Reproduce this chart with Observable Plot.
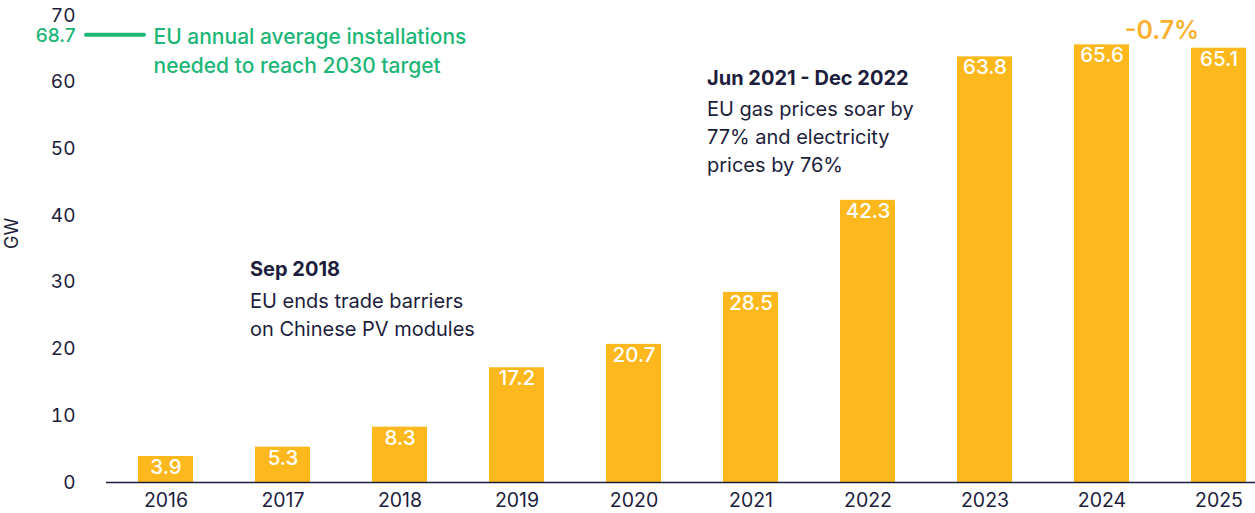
<!DOCTYPE html>
<html>
<head>
<meta charset="utf-8">
<script src="https://cdn.jsdelivr.net/npm/d3@7"></script>
<script src="https://cdn.jsdelivr.net/npm/@observablehq/plot@0.6"></script>
<style>
  html, body { margin: 0; padding: 0; background: #fff; }
  svg { display: block; }
</style>
</head>
<body>
<div id="chart"></div>
<script>
const years = ["2016","2017","2018","2019","2020","2021","2022","2023","2024","2025"];
const values = [3.9, 5.3, 8.3, 17.2, 20.7, 28.5, 42.3, 63.8, 65.6, 65.1];
const yTicks = [0, 10, 20, 30, 40, 50, 60, 70];
const target = 68.7;
const targetText = "EU annual average installations\nneeded to reach 2030 target";
const changeText = "-0.7%";
const noteYears = ["2017", "2021"];
const noteValues = [31.9, 60.6];
const noteTitles = ["Sep 2018", "Jun 2021 - Dec 2022"];
const noteBodies = ["EU ends trade barriers\non Chinese PV modules", "EU gas prices soar by\n77% and electricity\nprices by 76%"];

const data = years.map((y, i) => ({year: y, value: values[i]}));
const notes = noteYears.map((x, i) => ({x, y: noteValues[i], title: noteTitles[i], body: noteBodies[i]}));

const navy = "#1d1d3d";
const bar = "#fdb81e";
const green = "#1db677";

const noteMarks = (note, dx) => [
  Plot.text([note], {x: "x", y: "y", text: "title", textAnchor: "start", dx, fill: navy, fontSize: 20, fontWeight: 700}),
  Plot.text([note], {x: "x", y: "y", text: "body", textAnchor: "start", lineAnchor: "top", dx, dy: 18, lineHeight: 1.4, fill: navy, fontSize: 20})
];

const chart = Plot.plot({
  width: 1255,
  height: 513,
  marginLeft: 106,
  marginRight: 0,
  marginTop: 15,
  marginBottom: 31,
  style: {fontFamily: "Inter, 'Open Sans', sans-serif", overflow: "visible", background: "#fff"},
  x: {type: "band", domain: years, range: [137, 1247], paddingInner: 0.53, paddingOuter: 0},
  y: {domain: [0, 70]},
  marks: [
    Plot.barY(data, {x: "year", y: "value", fill: bar}),
    Plot.text(data, {x: "year", y: "value", text: d => d.value.toFixed(1), fill: "#fff", fontSize: 20.5, fontWeight: 500, lineAnchor: "top", dy: 3}),
    Plot.ruleY([0], {stroke: navy, strokeWidth: 1.5}),
    Plot.axisY({ticks: yTicks, tickSize: 0, tickPadding: 31, fontSize: 19, color: navy, label: null}),
    Plot.axisX({tickSize: 0, tickPadding: 11, fontSize: 19.5, color: navy, label: null}),
    Plot.text(["GW"], {frameAnchor: "left", rotate: -90, dx: -94, fontSize: 18, fill: navy}),
    // target annotation
    Plot.ruleY([target], {dy: 10.5, stroke: green, strokeWidth: 4, strokeLinecap: "round", insetLeft: -20, insetRight: 1111}),
    Plot.text([target], {y: d => d, text: d => d.toFixed(1), frameAnchor: "left", textAnchor: "end", dx: -31, dy: 12, fill: green, fontSize: 19, fontWeight: 500}),
    Plot.text([targetText], {y: () => target, text: d => d, frameAnchor: "left", textAnchor: "start", dx: 47, dy: 25, lineHeight: 1.38, fill: green, fontSize: 21, fontWeight: 500}),
    // change label
    Plot.text([changeText], {x: () => "2025", y: () => values[9], text: d => d, dx: -57, dy: -17, fill: "#f9b12f", fontSize: 25, fontWeight: 600}),
    // notes
    ...noteMarks(notes[0], -33),
    ...noteMarks(notes[1], -44)
  ]
});
document.getElementById("chart").appendChild(chart);
</script>
</body>
</html>
